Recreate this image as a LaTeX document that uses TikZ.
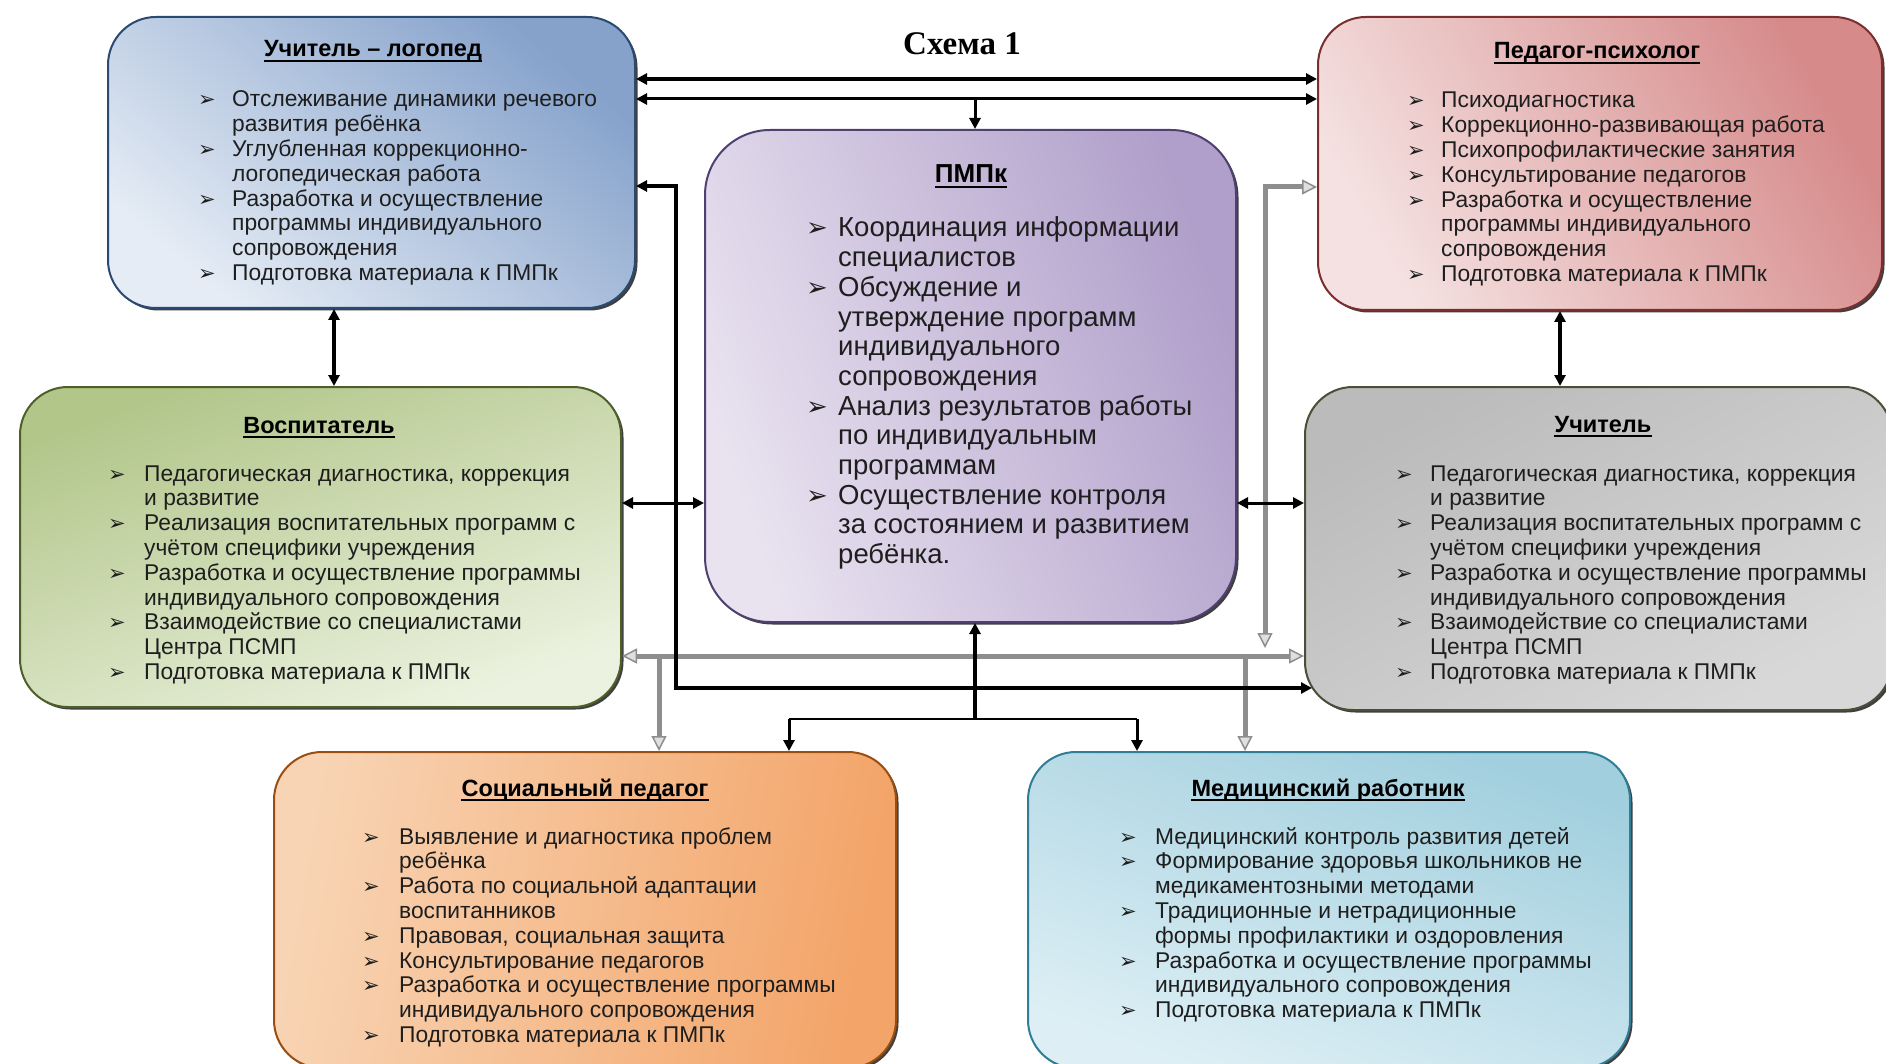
\documentclass[tikz,border=0pt]{standalone}
\usepackage{fontspec}
\setmainfont{Liberation Sans}
\newfontfamily\serifb{Liberation Serif}
\newfontfamily\dejavu{DejaVu Sans}
\usetikzlibrary{arrows.meta,shadows}
\newlength\bw
\def\bulsize{21pt}
\newcommand\bul{{\dejavu\fontsize{\bulsize}{\bulsize}\selectfont ➢}}
\newcommand\Bit[1]{\smash{\hbox to\bw{\bul\hfil}#1}}
\newcommand\Cit[1]{\smash{\hspace*{\bw}#1}}
\definecolor{txt}{HTML}{1E1E1E}
\definecolor{b1d}{HTML}{2B4A72}\definecolor{b1a}{HTML}{86A2CB}\definecolor{b1b}{HTML}{E5ECF5}
\definecolor{b2d}{HTML}{7A2E2E}\definecolor{b2a}{HTML}{D68A8A}\definecolor{b2b}{HTML}{F5E1E1}
\definecolor{pmd}{HTML}{4F4070}\definecolor{pma}{HTML}{B09FCA}\definecolor{pmb}{HTML}{E9E3F0}
\definecolor{b3d}{HTML}{4F5F2A}\definecolor{b3a}{HTML}{B2C68A}\definecolor{b3b}{HTML}{ECF2E0}
\definecolor{b4d}{HTML}{4D4D3A}\definecolor{b4a}{HTML}{BBBBBB}\definecolor{b4b}{HTML}{D8D8D8}
\definecolor{b5d}{HTML}{9A4E10}\definecolor{b5a}{HTML}{F8D4B4}\definecolor{b5m}{HTML}{FCE7D6}\definecolor{b5b}{HTML}{F3A468}
\definecolor{b6d}{HTML}{2F7E96}\definecolor{b6a}{HTML}{A2CFDE}\definecolor{b6b}{HTML}{DDEFF5}
\definecolor{gline}{HTML}{8E8E8E}
\tikzset{
  box/.style={rectangle, rounded corners=48pt, line width=2pt, inner sep=0pt,
    drop shadow={shadow xshift=2.5pt, shadow yshift=-2.5pt, fill=black!75, opacity=1}},
  lst/.style={inner sep=0pt, text=txt, font=\fontsize{22.8}{24.8}\selectfont},
  hdr/.style={inner sep=0pt, text=black, font=\bfseries\fontsize{23.5}{25}\selectfont, anchor=base},
  conn/.style={draw=black, >={Triangle[length=11pt,width=11pt]}},
  gconn/.style={draw=gline, line width=5pt, >={Triangle[length=15pt,width=15pt,fill=gray!25,line width=1.5pt]}},
}
\begin{document}
\begin{tikzpicture}[x=1pt,y=-1pt]
\useasboundingbox (0,0) rectangle (1886,1064);
\fill[white] (0,0) rectangle (1886,1064);

% boxes
\node[box, draw=b1d, top color=b1a, bottom color=b1b, shading angle=-40,
  minimum width=527pt, minimum height=291pt] (b1) at (371.5,162.5) {};
\node[box, draw=b2d, top color=b2a, bottom color=b2b, shading angle=-60,
  minimum width=564pt, minimum height=293pt] (b2) at (1600,163.5) {};
\node[box, rounded corners=65pt, draw=pmd, left color=pmb, right color=pma, shading angle=110,
  minimum width=531pt, minimum height=492pt] (pm) at (970.5,376) {};
\node[box, draw=b3d, top color=b3a, bottom color=b3b, shading angle=20,
  minimum width=601pt, minimum height=320pt] (b3) at (320.5,547) {};
\node[box, draw=b4d, top color=b4a, bottom color=b4b, shading angle=30,
  minimum width=587pt, minimum height=323pt] (b4) at (1598.5,548.5) {};
\node[box, draw=b5d, left color=b5a, middle color=b5m, right color=b5b, shading angle=80,
  minimum width=622pt, minimum height=316pt] (b5) at (585,910) {};
\node[box, draw=b6d, top color=b6a, bottom color=b6b, shading angle=-20,
  minimum width=602pt, minimum height=316pt] (b6) at (1329,910) {};

% title
\node[inner sep=0pt, font=\serifb\bfseries\fontsize{33}{35}\selectfont] (title) at (962,44) {Схема 1};

% headers
\node[hdr] (h1) at (373,57) {Учитель – логопед};
\node[hdr] (h2) at (1597,59) {Педагог-психолог};
\node[hdr, font=\bfseries\fontsize{26}{28}\selectfont] (hp) at (971,183) {ПМПк};
\node[hdr] (h3) at (319,433) {Воспитатель};
\node[hdr] (h4) at (1603,432) {Учитель};
\node[hdr] (h5) at (585,796) {Социальный педагог};
\node[hdr] (h6) at (1328,796) {Медицинский работник};
\foreach \h in {h1,h2,hp,h3,h4,h5,h6}
  \draw[line width=1.8pt] ([yshift=-4pt]\h.base west) -- ([yshift=-4pt]\h.base east);

% lists
\node[lst, anchor=base west] (t1) at (198,107) {\setlength\bw{34pt}\begin{tabular}[t]{@{}l@{}}
\Bit{Отслеживание динамики речевого}\\
\Cit{развития ребёнка}\\
\Bit{Углубленная коррекционно-}\\
\Cit{логопедическая работа}\\
\Bit{Разработка и осуществление}\\
\Cit{программы индивидуального}\\
\Cit{сопровождения}\\
\Bit{Подготовка материала к ПМПк}
\end{tabular}};

\node[lst, anchor=base west] (t2) at (1407,108) {\setlength\bw{34pt}\begin{tabular}[t]{@{}l@{}}
\Bit{Психодиагностика}\\
\Bit{Коррекционно-развивающая работа}\\
\Bit{Психопрофилактические занятия}\\
\Bit{Консультирование педагогов}\\
\Bit{Разработка и осуществление}\\
\Cit{программы индивидуального}\\
\Cit{сопровождения}\\
\Bit{Подготовка материала к ПМПк}
\end{tabular}};

\node[lst, font=\fontsize{27.5}{29.7}\selectfont, anchor=base west] (tp) at (806,237) {\def\bulsize{26pt}\setlength\bw{32pt}\begin{tabular}[t]{@{}l@{}}
\Bit{Координация информации}\\
\Cit{специалистов}\\
\Bit{Обсуждение и}\\
\Cit{утверждение программ}\\
\Cit{индивидуального}\\
\Cit{сопровождения}\\
\Bit{Анализ результатов работы}\\
\Cit{по индивидуальным}\\
\Cit{программам}\\
\Bit{Осуществление контроля}\\
\Cit{за состоянием и развитием}\\
\Cit{ребёнка.}
\end{tabular}};

\node[lst, anchor=base west] (t3) at (108,481) {\setlength\bw{36pt}\begin{tabular}[t]{@{}l@{}}
\Bit{Педагогическая диагностика, коррекция}\\
\Cit{и развитие}\\
\Bit{Реализация воспитательных программ с}\\
\Cit{учётом специфики учреждения}\\
\Bit{Разработка и осуществление программы}\\
\Cit{индивидуального сопровождения}\\
\Bit{Взаимодействие со специалистами}\\
\Cit{Центра ПСМП}\\
\Bit{Подготовка материала к ПМПк}
\end{tabular}};

\node[lst, anchor=base west] (t4) at (1395,481) {\setlength\bw{35pt}\begin{tabular}[t]{@{}l@{}}
\Bit{Педагогическая диагностика, коррекция}\\
\Cit{и развитие}\\
\Bit{Реализация воспитательных программ с}\\
\Cit{учётом специфики учреждения}\\
\Bit{Разработка и осуществление программы}\\
\Cit{индивидуального сопровождения}\\
\Bit{Взаимодействие со специалистами}\\
\Cit{Центра ПСМП}\\
\Bit{Подготовка материала к ПМПк}
\end{tabular}};

\node[lst, anchor=base west] (t5) at (362,844) {\setlength\bw{37pt}\begin{tabular}[t]{@{}l@{}}
\Bit{Выявление и диагностика проблем}\\
\Cit{ребёнка}\\
\Bit{Работа по социальной адаптации}\\
\Cit{воспитанников}\\
\Bit{Правовая, социальная защита}\\
\Bit{Консультирование педагогов}\\
\Bit{Разработка и осуществление программы}\\
\Cit{индивидуального сопровождения}\\
\Bit{Подготовка материала к ПМПк}
\end{tabular}};

\node[lst, anchor=base west] (t6) at (1119,844) {\setlength\bw{36pt}\begin{tabular}[t]{@{}l@{}}
\Bit{Медицинский контроль развития детей}\\
\Bit{Формирование здоровья школьников не}\\
\Cit{медикаментозными методами}\\
\Bit{Традиционные и нетрадиционные}\\
\Cit{формы профилактики и оздоровления}\\
\Bit{Разработка и осуществление программы}\\
\Cit{индивидуального сопровождения}\\
\Bit{Подготовка материала к ПМПк}
\end{tabular}};

% junction coordinates
\coordinate (tj) at (975,99);
\coordinate (bc) at (676,688);
\coordinate (gr1) at (1265,648);
\coordinate (gj5) at (659,656);
\coordinate (gj6) at (1245,656);
\coordinate (bj) at (975,719);
\coordinate (bj5) at (789,719);
\coordinate (bj6) at (1137,719);

% grey connectors
\draw[gconn, <->] (b3.east |- 0,656) -- (b4.west |- 0,656);
\draw[gconn, <->] (b2.west |- 0,187) -| (gr1);
\draw[gconn, ->] (gj5) -- (b5.north -| gj5);
\draw[gconn, ->] (gj6) -- (b6.north -| gj6);

% black connectors
\draw[conn, line width=4pt, <->] (b1.east |- 0,79) -- (b2.west |- 0,79);
\draw[conn, line width=3pt, <->] (b1.east |- 0,99) -- (b2.west |- 0,99);
\draw[conn, line width=3pt, ->] (tj) -- (pm.north -| tj);
\draw[conn, line width=4pt, <->] (b1.east |- 0,186) -| (bc) -- ([xshift=8pt]b4.west |- bc);
\draw[conn, line width=3pt, <->] (b3.east |- 0,503) -- (pm.west |- 0,503);
\draw[conn, line width=3pt, <->] (pm.east |- 0,503) -- (b4.west |- 0,503);
\draw[conn, line width=4pt, ->] (bj) -- (pm.south -| bj);
\draw[conn, line width=2pt] (bj5) -- (bj6);
\draw[conn, line width=3pt, ->] (bj5) -- (b5.north -| bj5);
\draw[conn, line width=3pt, ->] (bj6) -- (b6.north -| bj6);
\draw[conn, line width=4pt, <->] (b1.south -| 334,0) -- (b3.north -| 334,0);
\draw[conn, line width=4pt, <->] (b2.south -| 1560,0) -- (b4.north -| 1560,0);
\end{tikzpicture}
\end{document}
